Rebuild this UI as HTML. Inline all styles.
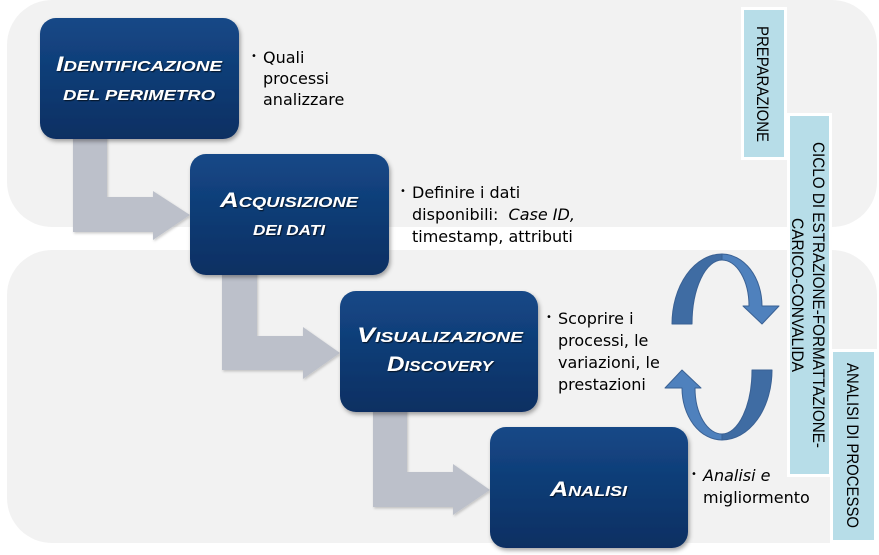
<!DOCTYPE html>
<html>
<head>
<meta charset="utf-8">
<style>
  html,body{margin:0;padding:0;background:#fff;}
  svg{display:block;}
  .t{font-family:"Liberation Sans",sans-serif;font-style:italic;font-weight:bold;fill:#fff;}
  .b{font-family:"DejaVu Sans","Liberation Sans",sans-serif;font-size:16px;fill:#000;}
  .l{font-family:"Liberation Sans",sans-serif;font-size:17px;fill:#000;}
</style>
</head>
<body>
<svg width="879" height="555" viewBox="0 0 879 555" xmlns="http://www.w3.org/2000/svg">
  <defs>
    <linearGradient id="g" x1="0" y1="0" x2="0" y2="1">
      <stop offset="0" stop-color="#144887"/>
      <stop offset="1" stop-color="#0b2f62"/>
    </linearGradient>
    <filter id="sh" x="-10%" y="-10%" width="130%" height="130%">
      <feDropShadow dx="1.5" dy="2.5" stdDeviation="2" flood-color="#000" flood-opacity="0.35"/>
    </filter>
    <filter id="ash" x="-10%" y="-10%" width="130%" height="130%">
      <feDropShadow dx="1" dy="1.5" stdDeviation="1.2" flood-color="#000" flood-opacity="0.2"/>
    </filter>
    <filter id="ts" x="-5%" y="-20%" width="110%" height="140%">
      <feDropShadow dx="1" dy="1" stdDeviation="0.6" flood-color="#000" flood-opacity="0.7"/>
    </filter>
  </defs>

  <rect width="879" height="555" fill="#fff"/>
  <!-- panels -->
  <rect x="7" y="0" width="870" height="227" rx="45" fill="#f2f2f2"/>
  <rect x="7" y="250" width="870" height="293" rx="45" fill="#f2f2f2"/>

  <!-- bent arrows -->
  <g fill="#bcc0ca" filter="url(#ash)">
    <polygon points="73,135 107,135 107,197 153,197 153,191 190,215 153,240 153,232 73,232"/>
    <polygon points="222,270 257,270 257,336 303,336 303,327 340,353 303,379 303,370 222,370"/>
    <polygon points="373,408 407,408 407,472 453,472 453,464 490,490 453,515 453,507 373,507"/>
  </g>

  <!-- boxes -->
  <g fill="url(#g)" filter="url(#sh)">
    <rect x="40" y="18" width="199" height="121" rx="16"/>
    <rect x="190" y="154" width="199" height="121" rx="16"/>
    <rect x="340" y="291" width="198" height="121" rx="16"/>
    <rect x="490" y="427" width="198" height="121" rx="16"/>
  </g>

  <!-- titles -->
  <g class="t" filter="url(#ts)">
    <text x="56" y="71" textLength="166" lengthAdjust="spacingAndGlyphs"><tspan font-size="21">I</tspan><tspan font-size="15">DENTIFICAZIONE</tspan></text>
    <text x="63" y="100" textLength="152" lengthAdjust="spacingAndGlyphs" font-size="15">DEL PERIMETRO</text>

    <text x="220" y="207" textLength="138" lengthAdjust="spacingAndGlyphs"><tspan font-size="21">A</tspan><tspan font-size="15">CQUISIZIONE</tspan></text>
    <text x="253" y="235" textLength="72" lengthAdjust="spacingAndGlyphs" font-size="15">DEI DATI</text>

    <text x="357" y="342" textLength="166" lengthAdjust="spacingAndGlyphs"><tspan font-size="21">V</tspan><tspan font-size="15">ISUALIZAZIONE</tspan></text>
    <text x="387" y="371" textLength="106" lengthAdjust="spacingAndGlyphs"><tspan font-size="21">D</tspan><tspan font-size="15">ISCOVERY</tspan></text>

    <text x="550" y="496" textLength="77" lengthAdjust="spacingAndGlyphs"><tspan font-size="21">A</tspan><tspan font-size="15">NALISI</tspan></text>
  </g>

  <!-- bullet texts -->
  <g class="b">
    <text x="251" y="59" font-size="10">•</text>
    <text x="263" y="63">Quali</text>
    <text x="263" y="84">processi</text>
    <text x="263" y="105">analizzare</text>

    <text x="400" y="194" font-size="10">•</text>
    <text x="412" y="198">Definire i dati</text>
    <text x="412" y="220">disponibili:&#160; <tspan font-style="italic">Case ID,</tspan></text>
    <text x="412" y="242">timestamp, attributi</text>

    <text x="546" y="320" font-size="10">•</text>
    <text x="558" y="324">Scoprire i</text>
    <text x="558" y="346">processi, le</text>
    <text x="558" y="368">variazioni, le</text>
    <text x="558" y="390">prestazioni</text>

    <text x="691" y="477" font-size="10">•</text>
    <text x="703" y="481" font-style="italic">Analisi e</text>
    <text x="703" y="503">migliormento</text>
  </g>

  <!-- circular arrows -->
  <g stroke="#3a6194" stroke-width="1" stroke-linejoin="round">
    <path d="M722,254 A40,52 0 0 1 762,306 L779,306 L762,324 L743,306 L749,306 A27,46 0 0 0 722,260 Z" fill="#4f81bd"/>
    <path d="M672,324 A50,70 0 0 1 722,254 L722,260 A30,64 0 0 0 692,324 Z" fill="#3f6ca3"/>
  </g>
  <g transform="rotate(180 722 347)" stroke="#3a6194" stroke-width="1" stroke-linejoin="round">
    <path d="M722,254 A40,52 0 0 1 762,306 L779,306 L762,324 L743,306 L749,306 A27,46 0 0 0 722,260 Z" fill="#4f81bd"/>
    <path d="M672,324 A50,70 0 0 1 722,254 L722,260 A30,64 0 0 0 692,324 Z" fill="#3f6ca3"/>
  </g>

  <!-- labels -->
  <rect x="742.5" y="8.5" width="43" height="150" fill="#b7dde8" stroke="#fff" stroke-width="3"/>
  <rect x="788.5" y="114.5" width="42" height="361" fill="#b7dde8" stroke="#fff" stroke-width="3"/>
  <rect x="831.5" y="350.5" width="44" height="191" fill="#b7dde8" stroke="#fff" stroke-width="3"/>

  <g class="l">
    <text transform="translate(757,26) rotate(90)" textLength="116" lengthAdjust="spacingAndGlyphs">PREPARAZIONE</text>
    <text transform="translate(813,142) rotate(90)" textLength="306" lengthAdjust="spacingAndGlyphs">CICLO DI ESTRAZIONE-FORMATTAZIONE-</text>
    <text transform="translate(792,218) rotate(90)" textLength="154" lengthAdjust="spacingAndGlyphs">CARICO-CONVALIDA</text>
    <text transform="translate(847,363) rotate(90)" textLength="165" lengthAdjust="spacingAndGlyphs">ANALISI DI PROCESSO</text>
  </g>
</svg>
</body>
</html>
